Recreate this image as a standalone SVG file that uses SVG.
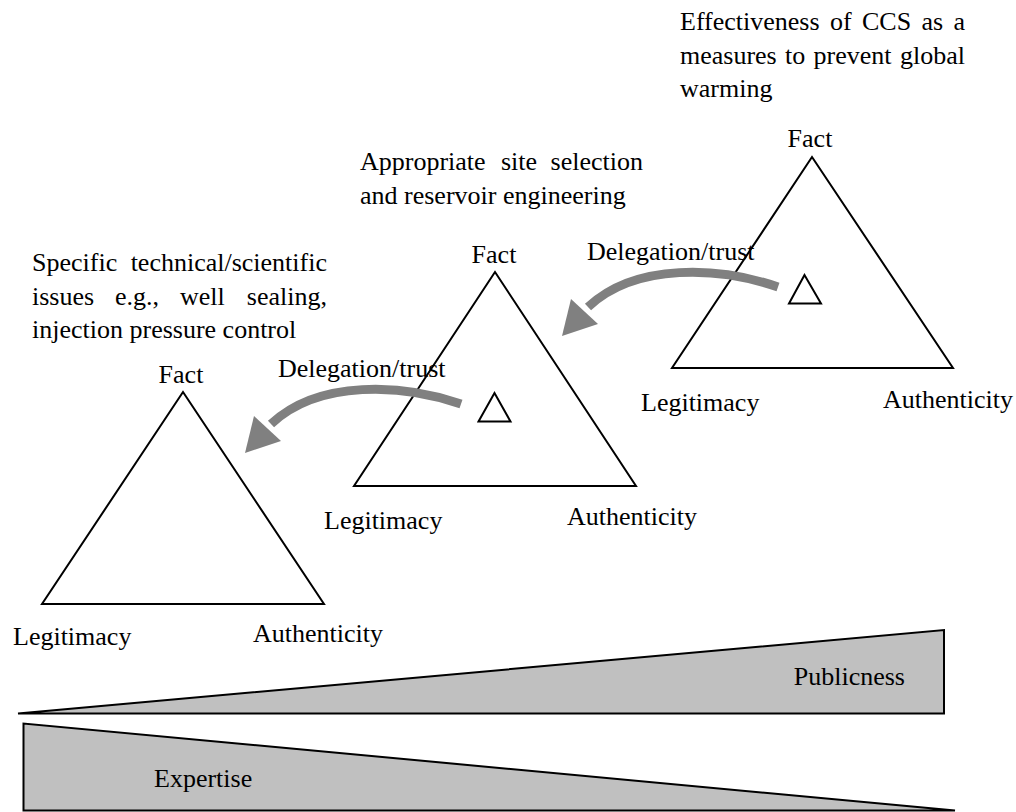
<svg xmlns="http://www.w3.org/2000/svg" width="1016" height="812" viewBox="0 0 1016 812">
  <style>
    text { font-family: "Liberation Serif", "Times New Roman", serif; font-size: 26px; fill: #000; }
    .mid { text-anchor: middle; }
    .end { text-anchor: end; }
    .tri { fill: none; stroke: #000; stroke-width: 2; stroke-linejoin: miter; }
    .wedge { fill: #c0c0c0; stroke: #000; stroke-width: 2; }
    .shaft { fill: none; stroke: #808080; stroke-width: 9; stroke-linecap: butt; }
    .head { fill: #808080; stroke: none; }
  </style>
  <defs>
    <!-- curved delegation arrow, drawn at the upper position -->
    <g id="delegation-arrow">
      <path class="shaft" d="M 778 287 C 720 267, 636 262, 588 307"/>
      <polygon class="head" points="562,336 571,299 598,324"/>
    </g>
  </defs>

  <rect width="1016" height="812" fill="#fff"/>

  <!-- left triangle: specific technical issues -->
  <g id="node-specific">
    <text x="32" y="271">Specific</text>
    <text class="end" x="327" y="271">technical/scientific</text>
    <text x="32" y="305">issues</text>
    <text x="115" y="305">e.g.,</text>
    <text x="180" y="305">well</text>
    <text class="end" x="327" y="305">sealing,</text>
    <text x="32" y="338">injection pressure control</text>
    <polygon class="tri" points="183,392 42,604 324,604"/>
    <text class="mid" x="181" y="383">Fact</text>
    <text x="13" y="645">Legitimacy</text>
    <text x="253" y="642">Authenticity</text>
  </g>

  <!-- middle triangle: site selection -->
  <g id="node-site">
    <text x="360" y="170">Appropriate</text>
    <text x="501" y="170">site</text>
    <text class="end" x="643" y="170">selection</text>
    <text x="360" y="204">and reservoir engineering</text>
    <polygon class="tri" points="495,272 354,486 636,486"/>
    <polygon class="tri" points="494.5,393 478.5,421.5 510.5,421.5"/>
    <text class="mid" x="494" y="263">Fact</text>
    <text x="324" y="529">Legitimacy</text>
    <text x="567" y="525">Authenticity</text>
  </g>

  <!-- right triangle: CCS effectiveness -->
  <g id="node-ccs">
    <text x="680" y="29.5">Effectiveness</text>
    <text x="830" y="29.5">of</text>
    <text x="862" y="29.5">CCS</text>
    <text x="921.5" y="29.5">as</text>
    <text class="end" x="965" y="29.5">a</text>
    <text x="680" y="63.5">measures</text>
    <text x="785" y="63.5">to</text>
    <text x="813.5" y="63.5">prevent</text>
    <text class="end" x="965" y="63.5">global</text>
    <text x="680" y="97">warming</text>
    <polygon class="tri" points="812,157 672,368 953,368"/>
    <polygon class="tri" points="804.5,275 789,303.5 821,303.5"/>
    <text class="mid" x="810" y="147">Fact</text>
    <text x="641" y="411">Legitimacy</text>
    <text x="883" y="408">Authenticity</text>
  </g>

  <!-- scales along the bottom -->
  <g id="node-publicness">
    <polygon class="wedge" points="18,713.5 944,630 944,713.5"/>
    <text class="end" x="905" y="685">Publicness</text>
  </g>
  <g id="node-expertise">
    <polygon class="wedge" points="23.5,723.5 23.5,810.5 955,810.5"/>
    <text x="154" y="787">Expertise</text>
  </g>

  <!-- delegation connectors -->
  <g id="connectors">
    <use href="#delegation-arrow"/>
    <use href="#delegation-arrow" transform="translate(-317,117)"/>
    <text x="587" y="260">Delegation/trust</text>
    <text x="278" y="377">Delegation/trust</text>
  </g>
</svg>
